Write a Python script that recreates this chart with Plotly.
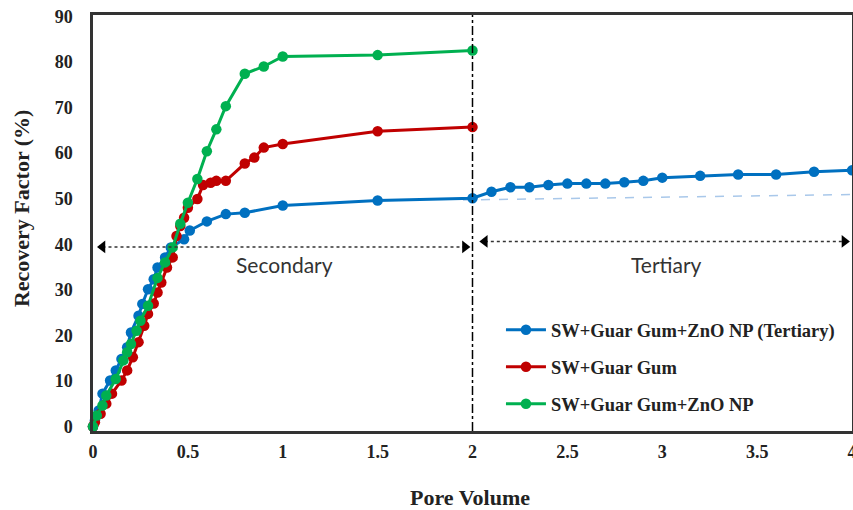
import plotly.graph_objects as go

# ---- data ----
pv_blue = [0, 0.01, 0.03, 0.05, 0.09, 0.12, 0.15, 0.18, 0.2, 0.24, 0.26, 0.29, 0.32, 0.34, 0.38, 0.41,
           0.48, 0.51, 0.6, 0.7, 0.8, 1.0, 1.5, 2.0,
           2.1, 2.2, 2.3, 2.4, 2.5, 2.6, 2.7, 2.8, 2.9, 3.0, 3.2, 3.4, 3.6, 3.8, 4.0]
rf_blue = [0, 1.3, 3.5, 7.2, 10.1, 12.3, 14.8, 17.4, 20.6, 24.3, 26.9, 30.1, 32.3, 34.9, 37.1, 39.3,
           41.1, 43.0, 45.0, 46.6, 46.9, 48.5, 49.6, 50.1,
           51.5, 52.5, 52.5, 53.0, 53.3, 53.3, 53.3, 53.6, 53.9, 54.6, 55.0, 55.3, 55.3, 55.9, 56.2]

pv_red = [0, 0.01, 0.04, 0.07, 0.1, 0.15, 0.18, 0.21, 0.24, 0.27, 0.29, 0.32, 0.34, 0.36, 0.39, 0.42,
          0.44, 0.46, 0.48, 0.5, 0.55, 0.58, 0.62, 0.65, 0.7, 0.8, 0.85, 0.9, 1.0, 1.5, 2.0]
rf_red = [0, 0.9, 2.8, 5.0, 7.2, 10.1, 12.3, 15.2, 18.5, 22.1, 24.7, 27.0, 29.4, 31.6, 34.9, 37.1,
          41.8, 44.0, 45.8, 48.0, 49.9, 53.0, 53.5, 53.9, 53.9, 57.7, 59.0, 61.2, 62.0, 64.8, 65.7]

pv_green = [0, 0.02, 0.05, 0.07, 0.12, 0.16, 0.18, 0.2, 0.23, 0.25, 0.29, 0.34, 0.38, 0.42, 0.46,
            0.5, 0.55, 0.6, 0.65, 0.7, 0.8, 0.9, 1.0, 1.5, 2.0]
rf_green = [0, 2.4, 4.6, 6.8, 10.4, 14.5, 16.3, 18.1, 21.0, 23.2, 26.5, 32.6, 36.0, 39.3, 44.5,
            49.1, 54.3, 60.4, 65.2, 70.3, 77.4, 79.0, 81.2, 81.5, 82.5]

trend_x = [1.95, 4.0]
trend_y = [49.7, 50.9]

names = ["SW+Guar Gum+ZnO NP (Tertiary)", "SW+Guar Gum", "SW+Guar Gum+ZnO NP"]
colors = ["#0070C0", "#C00000", "#00B050"]

sec_arrow_x = [0.05, 1.96]
sec_arrow_y = [39.4, 39.4]
ter_arrow_x = [2.065, 3.96]
ter_arrow_y = [40.6, 40.6]
region_labels = ["Secondary", "Tertiary"]
region_label_x = [1.01, 3.02]
region_label_y = 35.6
boundary_x = 2.0

x_ticks = [0, 0.5, 1, 1.5, 2, 2.5, 3, 3.5, 4]
x_ticktext = ["0", "0.5", "1", "1.5", "2", "2.5", "3", "3.5", "4"]
y_ticks = [0, 10, 20, 30, 40, 50, 60, 70, 80, 90]

SERIF = "Liberation Serif"

fig = go.Figure()

fig.add_trace(go.Scatter(x=trend_x, y=trend_y, mode="lines",
                         line=dict(color="#A9C8EA", width=1.5, dash="dash"),
                         showlegend=False, hoverinfo="skip"))

series = [(pv_blue, rf_blue), (pv_red, rf_red), (pv_green, rf_green)]
for i, (xs, ys) in enumerate(series):
    fig.add_trace(go.Scatter(x=xs, y=ys, mode="lines+markers", name=names[i],
                             legendgroup=f"g{i}",
                             line=dict(color=colors[i], width=3),
                             marker=dict(color=colors[i], size=10.5),
                             cliponaxis=False))

for ax_, ay_ in [(sec_arrow_x, sec_arrow_y), (ter_arrow_x, ter_arrow_y)]:
    fig.add_trace(go.Scatter(x=ax_, y=ay_, mode="lines+markers",
                             line=dict(color="#333333", width=1.5, dash="dot"),
                             marker=dict(symbol=["triangle-left", "triangle-right"], size=11,
                                         color="black"),
                             showlegend=False, hoverinfo="skip", cliponaxis=False))

fig.add_shape(type="line", x0=boundary_x, x1=boundary_x, y0=0, y1=1, xref="x", yref="paper",
              line=dict(color="black", width=1.5, dash="dashdot"))

for t, xx in zip(region_labels, region_label_x):
    fig.add_annotation(x=xx, y=region_label_y, text=t, showarrow=False,
                       font=dict(family="Lato", size=21, color="#333333"))

tickfont = dict(family=SERIF, size=18, color="#222222", weight="bold")
fig.update_xaxes(range=[0, 4], tickvals=x_ticks, ticktext=x_ticktext, automargin=False,
                 showgrid=False, zeroline=False, showline=True, linecolor="#333333", linewidth=2.5,
                 mirror=True, ticks="", tickfont=tickfont, ticklabelstandoff=3,
                 ticklabeloverflow="allow")
fig.update_yaxes(range=[-1, 90.3], tickvals=y_ticks, automargin=False,
                 showgrid=False, zeroline=False, showline=True, linecolor="#333333", linewidth=2.5,
                 mirror=True, ticks="", tickfont=tickfont, ticklabelstandoff=14)

fig.add_annotation(text="Pore Volume", xref="paper", yref="paper", x=0.497, y=-0.16,
                   yanchor="middle", showarrow=False,
                   font=dict(family=SERIF, size=22, color="#222222", weight="bold"))
fig.add_annotation(text="Recovery Factor (%)", xref="paper", yref="paper", x=-0.094, y=0.535,
                   textangle=-90, showarrow=False, xanchor="center",
                   font=dict(family=SERIF, size=22, color="#222222", weight="bold"))

fig.update_layout(
    width=853, height=510,
    margin=dict(l=93, r=1, t=15, b=79, autoexpand=False),
    paper_bgcolor="white", plot_bgcolor="white",
    font=dict(family=SERIF, color="#222222"),
    legend=dict(x=0.5375, y=0.288, xanchor="left", yanchor="top",
                font=dict(family=SERIF, size=18.5, color="#222222", weight="bold"),
                bgcolor="rgba(255,255,255,0)", tracegroupgap=10, traceorder="grouped",
                itemwidth=40),
)

fig.write_html("out.html", config={"displayModeBar": False},
               post_script="document.body.style.margin='0px';")
